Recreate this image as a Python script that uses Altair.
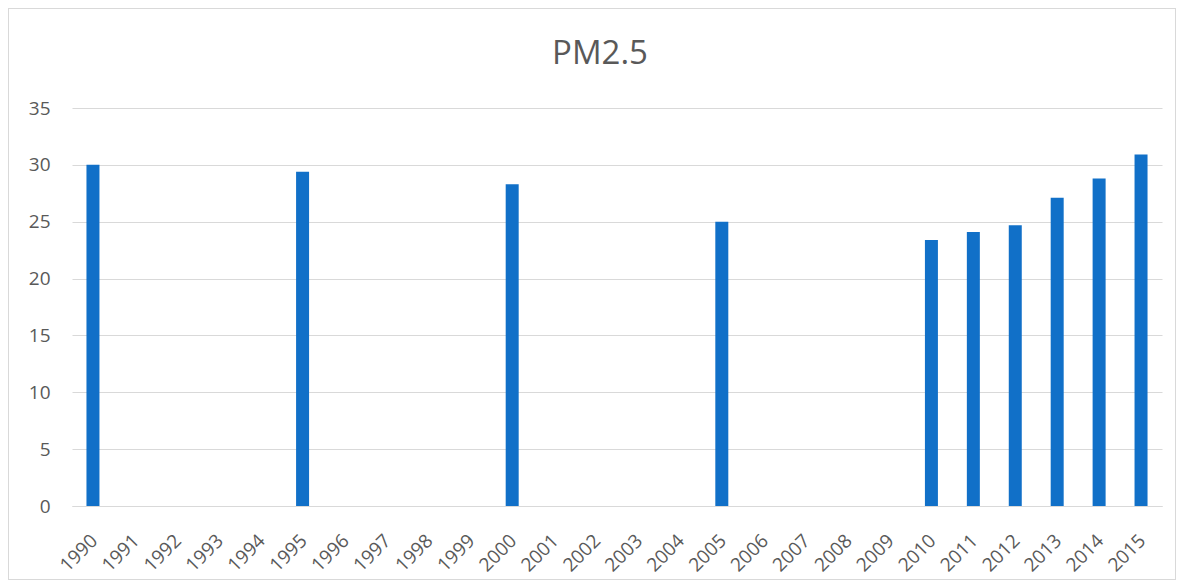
import altair as alt
import pandas as pd

all_years = [str(y) for y in range(1990, 2016)]
data_years = ["1990", "1995", "2000", "2005", "2010", "2011", "2012", "2013", "2014", "2015"]
pm25 = [30.0, 29.4, 28.3, 25.0, 23.4, 24.1, 24.7, 27.1, 28.8, 30.9]

df = pd.DataFrame({"year": data_years, "value": pm25})

W, H = 1090, 398
PL, PT, PR, PB = 64, 100, 14, 74
FONT = "Open Sans"
GREY = "#595959"

bars = alt.Chart(df).mark_bar(color="#1170C8").encode(
    x=alt.X("year:N", sort=all_years,
            scale=alt.Scale(domain=all_years, paddingInner=0.69, paddingOuter=0.345),
            axis=alt.Axis(title=None, labelAngle=-45, labelFontSize=19, labelColor=GREY,
                          labelFont=FONT, ticks=False, domainColor="#D9D9D9",
                          labelPadding=25, labelOffset=-5, grid=False)),
    y=alt.Y("value:Q", scale=alt.Scale(domain=[0, 35], nice=False),
            axis=alt.Axis(title=None, values=[0, 5, 10, 15, 20, 25, 30, 35],
                          labelFontSize=19, labelColor=GREY, labelFont=FONT,
                          ticks=False, domain=False, gridColor="#D9D9D9",
                          labelPadding=22)),
)

frame = alt.Chart(df).mark_rect(fill=None, stroke="#D9D9D9", strokeWidth=1, clip=False).encode(
    x=alt.value(-PL + 0.5), x2=alt.value(W + PR - 0.5),
    y=alt.value(-PT + 0.5), y2=alt.value(H + PB - 0.5),
)

chart = alt.layer(frame, bars).properties(
    width=W, height=H,
    autosize=alt.AutoSizeParams(type="none"),
    padding={"left": PL, "top": PT, "right": PR, "bottom": PB},
    title=alt.TitleParams("PM2.5", fontSize=33, font=FONT, color=GREY,
                          fontWeight="normal", anchor="middle", baseline="alphabetic",
                          offset=-89, dx=-17),
).configure_view(stroke=None)

chart.save("out.html", embed_options={"renderer": "svg", "actions": False})
